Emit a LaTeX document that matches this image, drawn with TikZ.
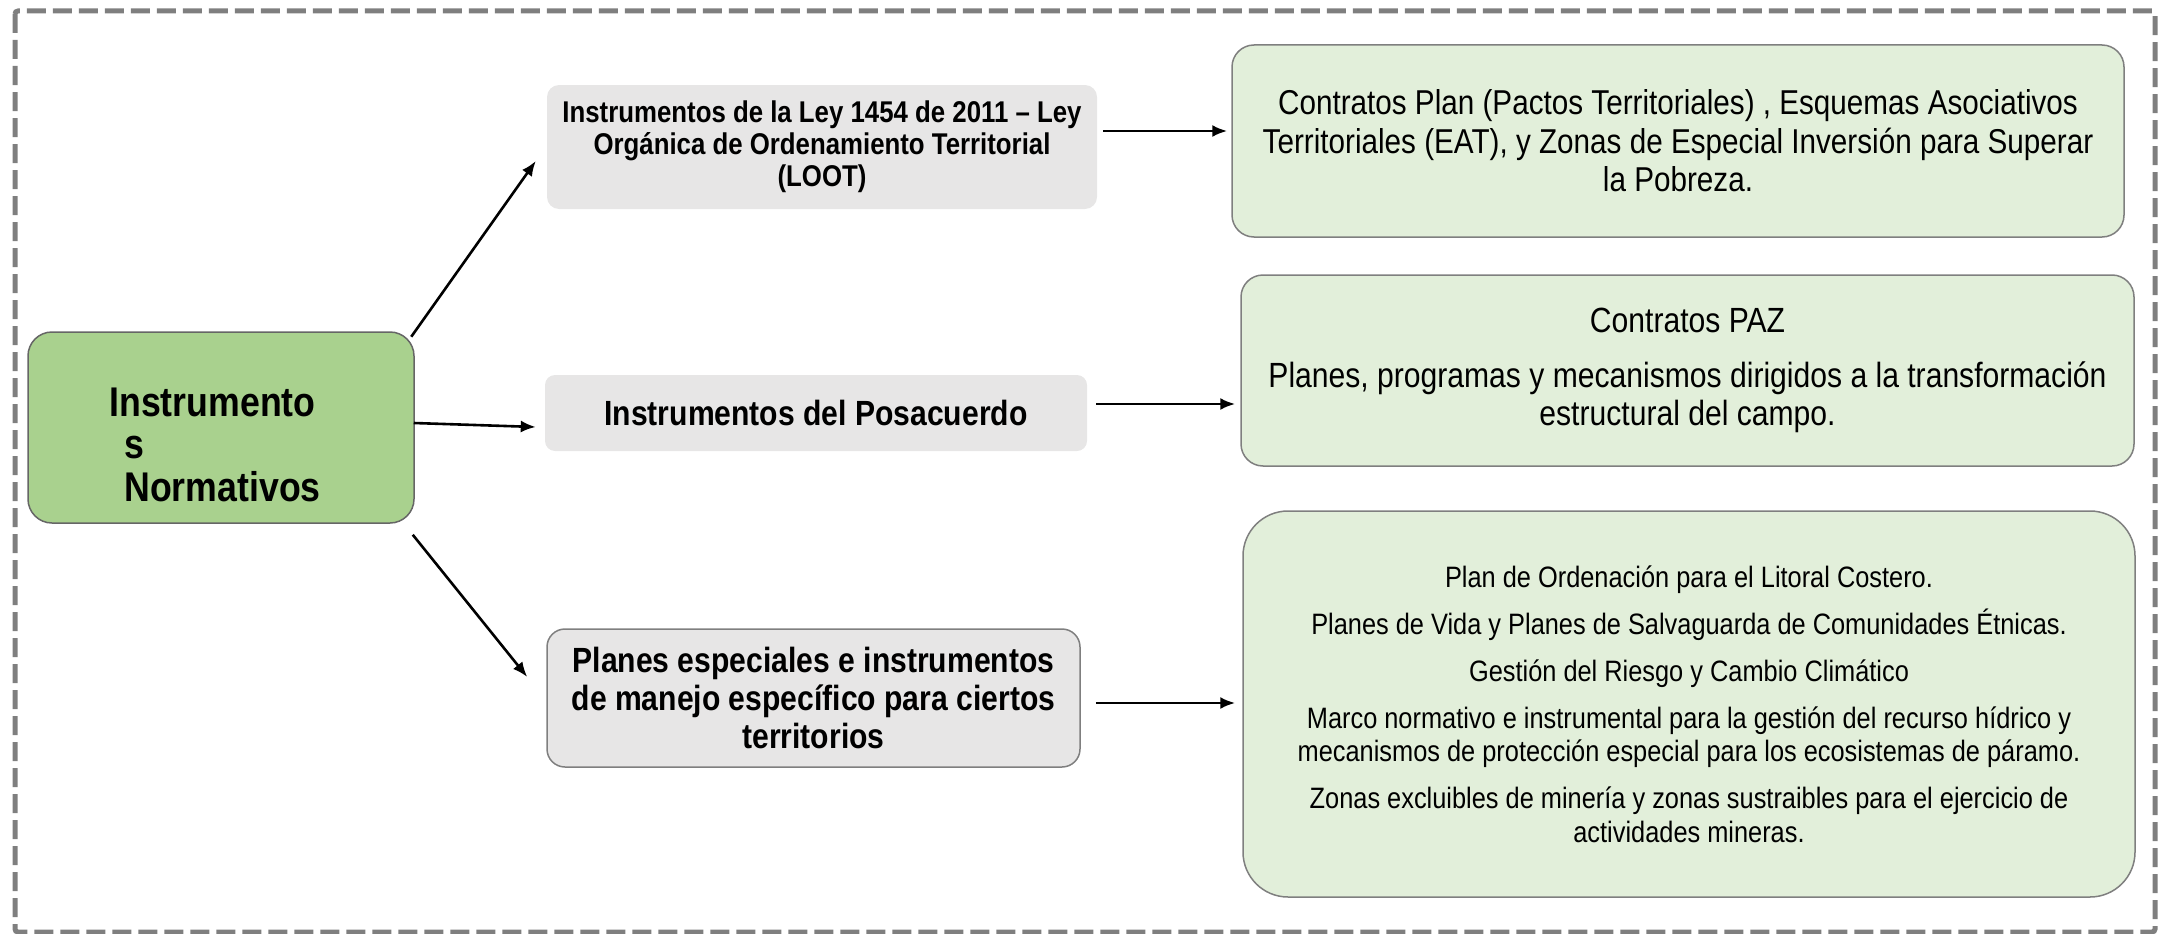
\documentclass[tikz,border=0pt]{standalone}
\usepackage{fontspec}
\setmainfont{Liberation Sans}[FakeStretch=0.86]
\usetikzlibrary{arrows.meta}
\definecolor{normgreen}{HTML}{A9D18E}
\definecolor{lightgreen}{HTML}{E2EFDA}
\definecolor{boxgray}{HTML}{E7E6E6}
\definecolor{linegray}{HTML}{7F7F7F}
\begin{document}
\begin{tikzpicture}[x=1pt,y=-1pt,
    arr/.style={-{Latex[length=15pt,width=12pt]},line width=2.6pt},
    graybox/.style={fill=boxgray,rounded corners=12pt,inner sep=0pt,align=center},
    greenbox/.style={fill=lightgreen,draw=linegray,line width=1.5pt,rounded corners=22pt,inner sep=0pt,align=center}]
    \useasboundingbox (0,0) rectangle (2160,934);
    % dashed frame
    \draw[linegray,line width=5pt,dash pattern=on 19pt off 7pt,rounded corners=3pt] (15,11) rectangle (2155,932);

    % left
    \node[fill=normgreen,draw=linegray!80!black,line width=1.5pt,rounded corners=24pt,minimum width=386pt,minimum height=191pt] (norm) at (221,427.5) {};
    \node[font={\fontsize{41.5}{42.5}\selectfont\bfseries},align=left,inner sep=0pt] (normlbl) at (215,444.5) {Instrumento\\\hspace*{15pt}s\\\hspace*{15pt}Normativos};

    % middle column
    \node[graybox,minimum width=550pt,minimum height=124pt,font={\fontsize{30}{32}\selectfont\bfseries}] (loot) at (822,147) {Instrumentos de la Ley 1454 de 2011 – Ley\\Orgánica de Ordenamiento Territorial\\(LOOT)};
    \node[graybox,rounded corners=10pt,minimum width=542pt,minimum height=76pt,font={\fontsize{35}{38}\selectfont\bfseries}] (posa) at (816,413) {Instrumentos del Posacuerdo};
    \node[graybox,draw=linegray,line width=1.5pt,rounded corners=18pt,minimum width=533pt,minimum height=138pt,font={\fontsize{35}{38}\selectfont\bfseries}] (espe) at (813.5,698) {Planes especiales e instrumentos\\de manejo específico para ciertos\\territorios};

    % right column
    \node[greenbox,minimum width=892pt,minimum height=192pt,font={\fontsize{34.5}{38.5}\selectfont}] (lootdet) at (1678,141) {Contratos Plan (Pactos Territoriales) , Esquemas Asociativos\\Territoriales (EAT), y Zonas de Especial Inversión para Superar\\la Pobreza.};
    \node[greenbox,minimum width=893pt,minimum height=191pt,font={\fontsize{35}{38.5}\selectfont}] (posadet) at (1687.5,370.5) {Contratos PAZ\\[16pt]Planes, programas y mecanismos dirigidos a la transformación\\estructural del campo.};
    \node[greenbox,rounded corners=45pt,minimum width=892pt,minimum height=386pt,font={\fontsize{29.5}{33.5}\selectfont}] (espedet) at (1689,704) {Plan de Ordenación para el Litoral Costero.\\[13.5pt]
      Planes de Vida y Planes de Salvaguarda de Comunidades Étnicas.\\[13.5pt]
      Gestión del Riesgo y Cambio Climático\\[13.5pt]
      Marco normativo e instrumental para la gestión del recurso hídrico y\\
      mecanismos de protección especial para los ecosistemas de páramo.\\[13.5pt]
      Zonas excluibles de minería y zonas sustraibles para el ejercicio de\\
      actividades mineras.};

    % arrows
    \draw[arr] ([xshift=-3.5pt,yshift=-5.5pt]norm.north east) -- ([xshift=-11pt,yshift=-14pt]loot.west);
    \draw[arr] ([xshift=-1pt,yshift=4.5pt]norm.east) -- ([xshift=-9pt,yshift=-14pt]posa.west);
    \draw[arr] ([xshift=-2pt,yshift=-11pt]norm.south east) -- ([xshift=-19pt,yshift=21pt]espe.west);
    \draw[arr] ([xshift=6pt,yshift=16pt]loot.east) -- ([xshift=-4pt,yshift=10pt]lootdet.west);
    \draw[arr] ([xshift=9pt,yshift=9pt]posa.east) -- ([xshift=-5pt,yshift=-33.5pt]posadet.west);
    \draw[arr] ([xshift=15pt,yshift=-5pt]espe.east) -- ([xshift=-7pt,yshift=1pt]espedet.west);
\end{tikzpicture}
\end{document}
